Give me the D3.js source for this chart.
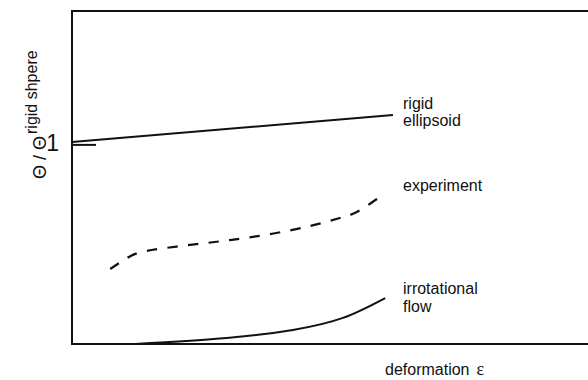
<!DOCTYPE html>
<html><head><meta charset="utf-8">
<script src="https://cdn.jsdelivr.net/npm/d3@7"></script>
<style>body{margin:0;background:#fff}svg{display:block;font-family:"Liberation Sans",Arial,sans-serif}</style>
</head><body>
<svg id="c" width="588" height="380"></svg>
<script>
// strain (0..1 of axis) and normalized orientation values
const rigidX = [0.0, 0.622];
const rigidY = [1.007, 1.142];
const expX = [0.074, 0.107, 0.145, 0.229, 0.306, 0.384, 0.461, 0.519, 0.552, 0.591];
const expY = [0.374, 0.429, 0.464, 0.494, 0.518, 0.548, 0.588, 0.628, 0.658, 0.723];
const irrX = [0.122, 0.300, 0.428, 0.525, 0.607];
const irrY = [0.0, 0.030, 0.070, 0.130, 0.229];
const yTicks = [1];
const yTickLabels = ["1"];

const svg = d3.select("#c");
const x = d3.scaleLinear().domain([0, 1]).range([72, 588]);
const y = d3.scaleLinear().domain([0, 1.66]).range([344, 11]);

// frame (right side runs off the picture)
svg.append("path").attr("d", `M${x.range()[1]+10},${y(1.66)}H${x(0)}V${y(0)}H${x.range()[1]+10}`)
  .attr("fill", "none").attr("stroke", "#111").attr("stroke-width", 2);

// y axis tick
const ax = svg.append("g").attr("transform", `translate(${x(0)},0)`)
  .call(d3.axisLeft(y).tickValues(yTicks).tickFormat((d,i)=>yTickLabels[i]).tickSizeInner(-24).tickSizeOuter(0).tickPadding(13));
ax.select(".domain").remove();
ax.selectAll(".tick line").attr("stroke", "#111").attr("stroke-width", 2).attr("transform", "translate(0,1)");
ax.selectAll(".tick text").attr("font-size", 23).attr("fill", "#111").attr("font-family", "Liberation Sans, Arial, sans-serif");

const line = d3.line().x(d => x(d[0])).y(d => y(d[1]));
svg.append("path").datum(d3.zip(rigidX, rigidY)).attr("d", line)
  .attr("fill", "none").attr("stroke", "#111").attr("stroke-width", 2);
const ep = svg.append("path").datum(d3.zip(expX, expY)).attr("d", d3.line().x(d => x(d[0])).y(d => y(d[1])).curve(d3.curveNatural))
  .attr("fill", "none").attr("stroke", "#111").attr("stroke-width", 2.2);
// dash pattern that starts and ends with a dash
const L = ep.node().getTotalLength();
const n = Math.round((L - 10) / 20);
const p = L / (n + 0.5);
ep.attr("stroke-dasharray", `${p/2},${p/2}`);
svg.append("path").datum(d3.zip(irrX, irrY)).attr("d", d3.line().x(d => x(d[0])).y(d => y(d[1])).curve(d3.curveNatural))
  .attr("fill", "none").attr("stroke", "#111").attr("stroke-width", 2);

const lab = (tx, ty, s) => svg.append("text").attr("x", tx).attr("y", ty).attr("font-size", 16).attr("fill", "#111").text(s);
lab(403, 109, "rigid");
lab(403, 126, "ellipsoid");
lab(403, 191, "experiment");
lab(403, 294, "irrotational");
lab(403, 312, "flow");
const dl = lab(385, 375, "deformation");
dl.append("tspan").attr("dx", 7).attr("font-family", "Liberation Serif, serif").attr("font-size", 18).text("ε");

const yl = svg.append("text").attr("transform", "translate(46,179) rotate(-90)")
  .attr("font-size", 18).attr("fill", "#111");
yl.append("tspan").attr("letter-spacing", 5).text("Θ/Θ");
yl.append("tspan").attr("font-size", 16).attr("dy", -9).attr("dx", -3).text("rigid shpere");
</script>
</body></html>
